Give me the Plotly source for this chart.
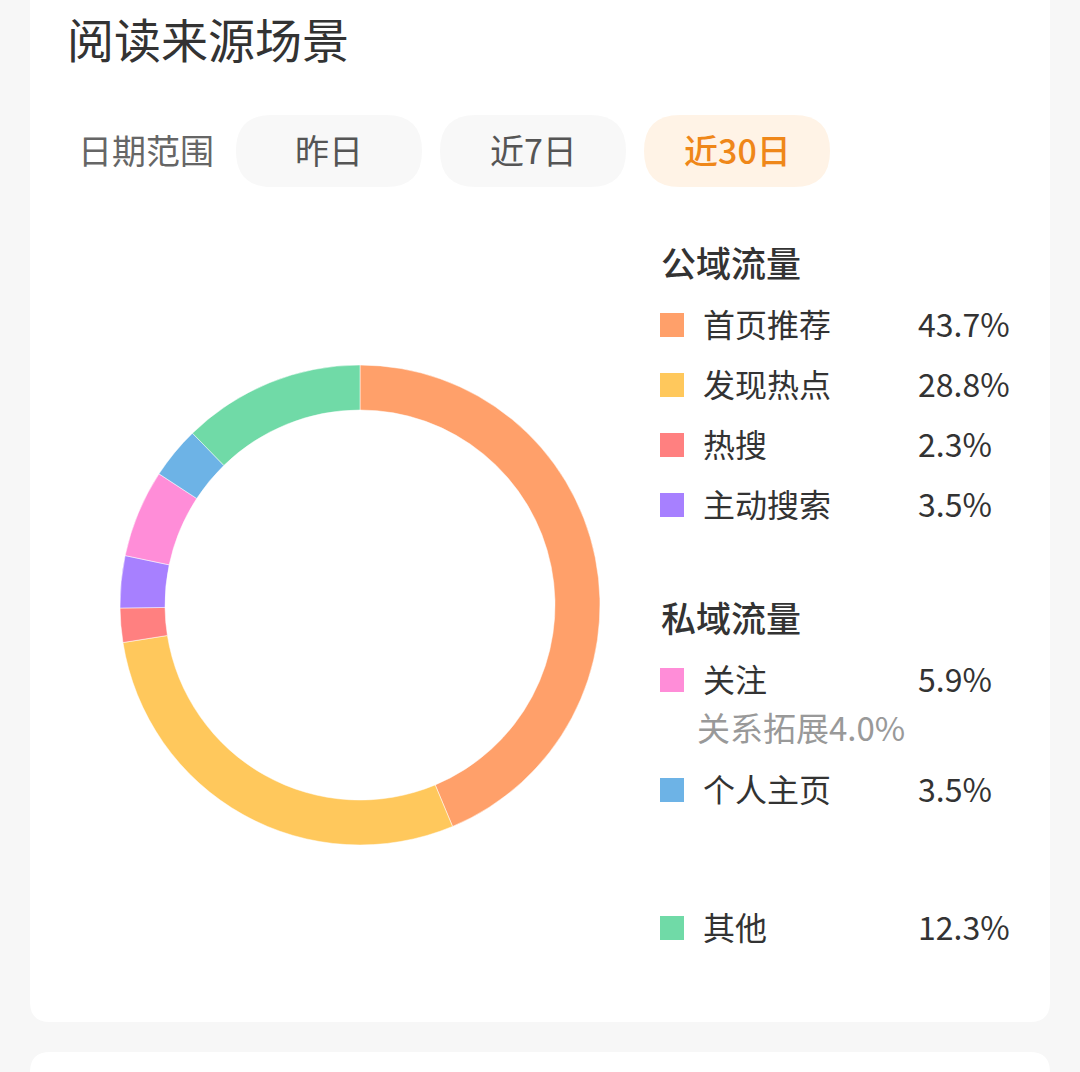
import plotly.graph_objects as go

# ---- data ----
categories = ["首页推荐", "发现热点", "热搜", "主动搜索", "关注", "个人主页", "其他"]
values = [43.7, 28.8, 2.3, 3.5, 5.9, 3.5, 12.3]
colors = ["#FFA06A", "#FFC85C", "#FF8080", "#A780FF", "#FF8DD8", "#6DB3E6", "#70DAA7"]
public_items = ["首页推荐", "发现热点", "热搜", "主动搜索"]
private_items = ["关注", "个人主页"]
other_items = ["其他"]
sub_note = "关系拓展4.0%"
date_options = ["昨日", "近7日", "近30日"]
active_option = "近30日"
title_text = "阅读来源场景"

W, H = 1080, 1072
FONT = "Noto Sans CJK SC"


def rrect(x0, y0, x1, y1, r):
    return (f"M{x0+r},{y0} L{x1-r},{y0} Q{x1},{y0} {x1},{y0+r} L{x1},{y1-r} "
            f"Q{x1},{y1} {x1-r},{y1} L{x0+r},{y1} Q{x0},{y1} {x0},{y1-r} "
            f"L{x0},{y0+r} Q{x0},{y0} {x0+r},{y0} Z")


fig = go.Figure()

# donut
cx, cy, R = 360, 605, 240
fig.add_trace(go.Pie(
    labels=categories, values=values, sort=False, direction="clockwise",
    rotation=0, hole=195 / 240, textinfo="none", hoverinfo="label+percent",
    marker=dict(colors=colors, line=dict(color="#ffffff", width=0.5)),
    domain=dict(x=[(cx - R) / W, (cx + R) / W], y=[(H - cy - R) / H, (H - cy + R) / H]),
    showlegend=False,
))

shapes = []
annotations = []

# cards
shapes.append(dict(type="path", path=rrect(30, -40, 1050, 1022, 20), xref="x", yref="y",
                   fillcolor="#FFFFFF", line=dict(width=0), layer="below"))
shapes.append(dict(type="path", path=rrect(30, 1052, 1050, 1200, 20), xref="x", yref="y",
                   fillcolor="#FFFFFF", line=dict(width=0), layer="below"))

# title
annotations.append(dict(x=65, y=37, text=title_text, showarrow=False, xanchor="left", yanchor="middle",
                        font=dict(family=FONT, size=47, color="#333333")))

# date range
annotations.append(dict(x=76, y=149, text="日期范围", showarrow=False, xanchor="left", yanchor="middle",
                        font=dict(family=FONT, size=34, color="#666666")))
pill_x = [236, 440, 644]
for i, opt in enumerate(date_options):
    x0 = pill_x[i]
    active = opt == active_option
    shapes.append(dict(type="path", path=rrect(x0, 115, x0 + 186, 187, 36), xref="x", yref="y",
                       fillcolor="#FFF3E6" if active else "#F8F8F8", line=dict(width=0), layer="below"))
    annotations.append(dict(x=x0 + 93, y=149, text=opt, showarrow=False, xanchor="center", yanchor="middle",
                            font=dict(family=FONT, size=34, color="#EF8719" if active else "#555555",
                                      weight=500 if active else 400)))

# legend
def header(text, y):
    annotations.append(dict(x=659, y=y, text=text, showarrow=False, xanchor="left", yanchor="middle",
                            font=dict(family=FONT, size=35, color="#333333", weight=500)))


def row(name, y):
    i = categories.index(name)
    shapes.append(dict(type="rect", x0=660, x1=684, y0=y - 12, y1=y + 12, xref="x", yref="y",
                       fillcolor=colors[i], line=dict(width=0)))
    annotations.append(dict(x=701, y=y - 2, text=name, showarrow=False, xanchor="left", yanchor="middle",
                            font=dict(family=FONT, size=32, color="#333333")))
    annotations.append(dict(x=916, y=y - 2, text=f"{values[i]:.1f}%", showarrow=False, xanchor="left",
                            yanchor="middle", font=dict(family=FONT, size=32, color="#333333")))


header("公域流量", 261)
for name, y in zip(public_items, [325, 385, 445, 505]):
    row(name, y)
header("私域流量", 616)
for name, y in zip(private_items, [680, 790]):
    row(name, y)
annotations.append(dict(x=695, y=727, text=sub_note, showarrow=False, xanchor="left", yanchor="middle",
                        font=dict(family=FONT, size=33, color="#999999")))
for name, y in zip(other_items, [928]):
    row(name, y)

fig.update_layout(
    width=W, height=H, margin=dict(l=0, r=0, t=0, b=0),
    paper_bgcolor="#F7F7F7", plot_bgcolor="rgba(0,0,0,0)",
    xaxis=dict(range=[0, W], visible=False, fixedrange=True),
    yaxis=dict(range=[H, 0], visible=False, fixedrange=True),
    shapes=shapes, annotations=annotations, showlegend=False,
)

fig.write_html("out.html", config={"displayModeBar": False})
